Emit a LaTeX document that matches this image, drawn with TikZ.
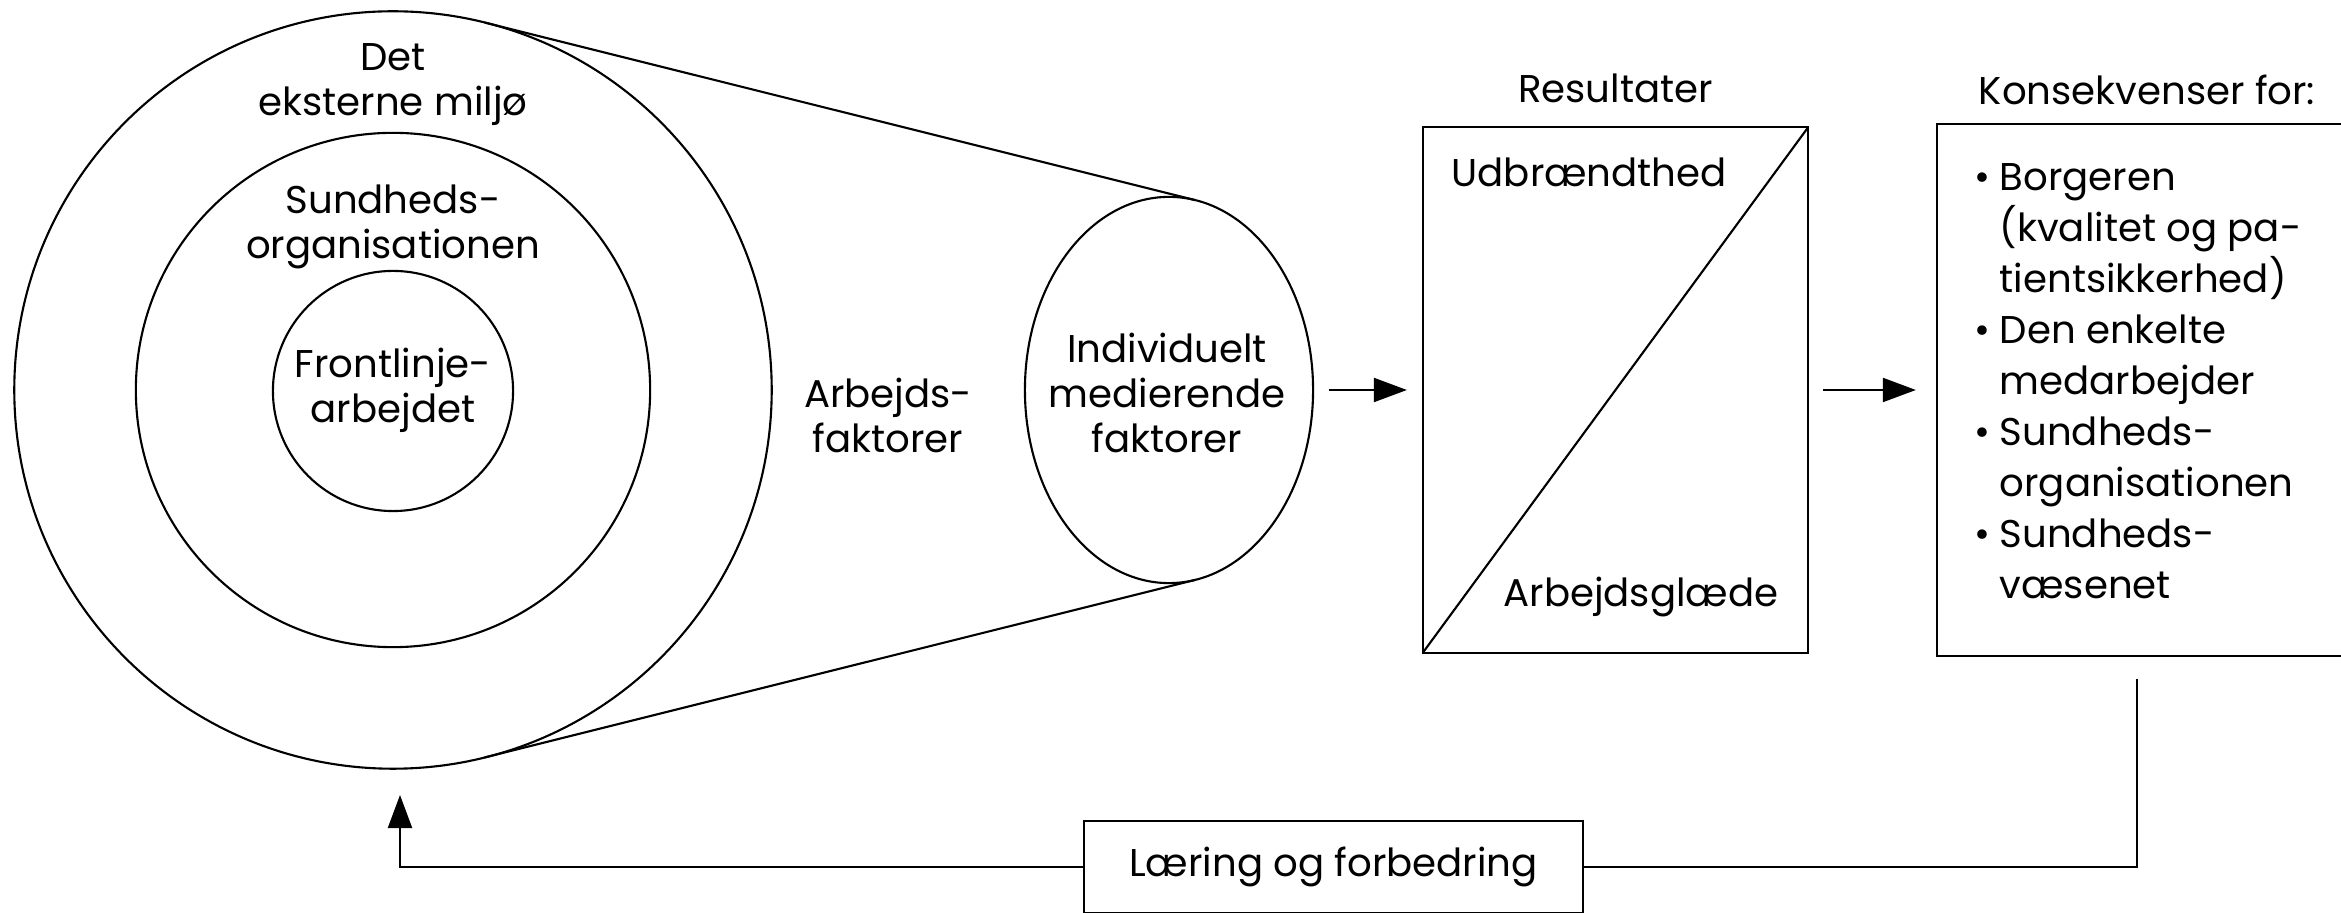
\documentclass[tikz,border=0pt]{standalone}
\usepackage{fontspec}
\setmainfont{Poppins}
\usetikzlibrary{positioning,arrows.meta,shapes.geometric}
\newcommand\bul{\makebox[0.21cm][l]{\hspace*{-0.04cm}•}}
\newcommand\skp{\hspace*{0.21cm}}
\tikzset{
  ring/.style={draw,circle,line width=0.6pt,inner sep=0pt,outer sep=0pt},
  oval/.style={draw,ellipse,line width=0.6pt,inner sep=0pt,outer sep=0pt},
  box/.style={draw,line width=0.6pt,inner sep=0pt,outer sep=0pt},
  lbl/.style={align=center,inner sep=0pt,font=\fontsize{11}{12.8}\selectfont},
  arr/.style={-{Triangle[length=0.33cm,width=0.24cm]},line width=0.6pt},
  ln/.style={line width=0.6pt}
}
\begin{document}
\begin{tikzpicture}[x=0.01cm,y=-0.01cm]
\useasboundingbox (0,0) rectangle (2341,913);
\clip (0,0) rectangle (2341,913);
\node[ring,minimum size=7.57cm] (ext) at (393,390) {};
\node[ring,minimum size=5.14cm] (org) at (393,390) {};
\node[ring,minimum size=2.40cm] (front) at (393,391) {};
\node[lbl] (extlbl) at (393,85) {Det\\eksterne miljø};
\node[lbl] (orglbl) at (393,227) {Sundheds-\\organisationen};
\node[lbl] (frontlbl) at (393,390) {Frontlinje-\\arbejdet};
\node[lbl] (work) at (888,415) {Arbejds-\\faktorer};
\node[oval,minimum width=2.88cm,minimum height=3.86cm] (ind) at (1169,390) {};
\node[lbl] (indlbl) at (1167,393) {Individuelt\\medierende\\faktorer};
\draw[ln] (ext.76) -- (ind.82);
\draw[ln] (ext.-76) -- (ind.-82);
\node[box,minimum width=3.85cm,minimum height=5.25cm] (res) at (1615.5,390) {};
\draw[ln] (res.south west) -- (res.north east);
\node[lbl,above=0.24cm of res] (restitle) {Resultater};
\node[lbl,anchor=west] (burn) at (1451,172) {Udbrændthed};
\node[lbl,anchor=east] (joy) at (1779,597) {Arbejdsglæde};
\node[box,minimum width=4.33cm,minimum height=5.31cm] (cons) at (2153.5,390) {};
\node[lbl] (constitle) at (2147,90) {Konsekvenser for:};
\node[lbl,align=left,anchor=north west,font=\fontsize{11}{14.5}\selectfont] (conslist) at (1978,163)
  {\bul Borgeren\\\skp(kvalitet og pa-\\\skp tientsikkerhed)\\\bul Den enkelte\\\skp medarbejder\\\bul Sundheds-\\\skp organisationen\\\bul Sundheds-\\\skp væsenet};
\draw[arr] ([xshift=0.16cm]ind.east) -- ([xshift=-0.16cm]res.west);
\draw[arr] ([xshift=0.15cm]res.east) -- ([xshift=-0.21cm]cons.west);
\node[box,lbl,minimum width=4.99cm,minimum height=0.92cm] (learn) at (1333.5,867) {Læring og forbedring};
\coordinate (fbtop) at (2137,679);
\coordinate (fbend) at (400,795);
\draw[ln] (fbtop) |- (learn.east);
\draw[arr] (learn.west) -| (fbend);
\end{tikzpicture}
\end{document}
